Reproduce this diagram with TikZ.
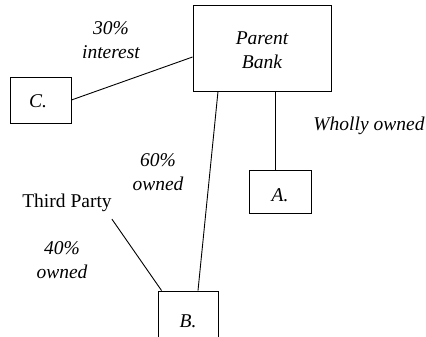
\documentclass[tikz,border=0pt]{standalone}
\usepackage{fontspec}
\setmainfont{Liberation Serif}
\begin{document}
\begin{tikzpicture}[x=1pt,y=-1pt,
  box/.style={draw,line width=0.9pt,inner sep=0pt},
  lbl/.style={inner sep=0pt,align=center,font=\fontsize{19.5}{24}\selectfont\itshape},
  link/.style={line width=0.9pt}]
\useasboundingbox (0,0) rectangle (426,337);
\clip (0,0) rectangle (426,337);
\node[box,minimum width=138pt,minimum height=86pt] (P) at (262,48) {};
\node[lbl] (Ptxt) at (262,50) {Parent\\Bank};
\node[box,minimum width=61pt,minimum height=46pt] (C) at (40.5,100) {};
\node[lbl] at (38,101) {C.};
\node[box,minimum width=62pt,minimum height=43pt] (A) at (280,191.5) {};
\node[lbl] at (280,195) {A.};
\node[box,minimum width=60pt,minimum height=70pt] (B) at (188,326) {};
\node[lbl] at (188,321) {B.};
\node[lbl] (int) at (111,40) {30\%\\interest};
\node[lbl] (who) at (369,126) {Wholly owned};
\node[lbl] (six) at (158,172) {60\%\\owned};
\node[lbl] (four) at (62,260) {40\%\\owned};
\node[inner sep=0pt,font=\fontsize{19.5}{24}\selectfont] (TP) at (67,203) {Third Party};
\draw[link] (C.east) -- ([yshift=-9pt]P.west);
\coordinate (Atop) at ([xshift=-5pt]A.north);
\draw[link] (P.south -| Atop) -- (Atop);
\draw[link] ([xshift=-44pt]P.south) -- ([xshift=10pt]B.north);
\draw[link] ([yshift=-7pt]TP.south east) -- ([xshift=4pt]B.north west);
\end{tikzpicture}
\end{document}
